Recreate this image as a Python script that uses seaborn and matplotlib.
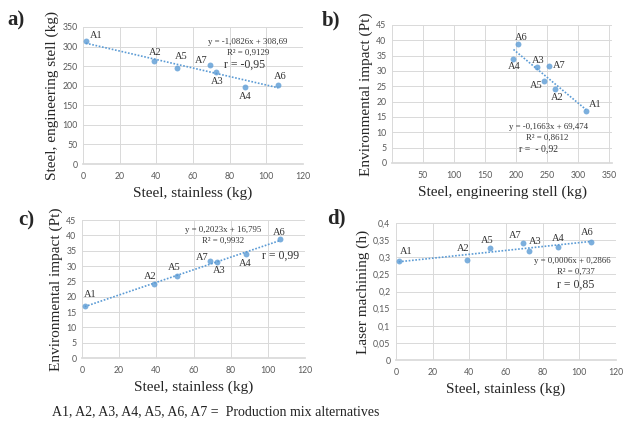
import matplotlib
matplotlib.use("Agg")
import matplotlib.pyplot as plt
import seaborn as sns
import pandas as pd
import numpy as np
from matplotlib.ticker import FixedLocator, FuncFormatter

# ---- data ----
alternatives = ["A1", "A2", "A3", "A4", "A5", "A6", "A7"]
steel_stainless = [1.5, 38.5, 72.5, 88.5, 51, 106.5, 69]
steel_engineering = [313, 263, 234, 196, 246, 203, 253]
env_impact = [17.0, 24.0, 31.3, 33.8, 26.6, 38.7, 31.5]
laser_machining = [0.288, 0.292, 0.319, 0.331, 0.327, 0.345, 0.342]

eq_a = ["y = -1,0826x + 308,69", "R\u00b2 = 0,9129", "r = -0,95"]
eq_b = ["y = -0,1663x + 69,474", "R\u00b2 = 0,8612", "r =  - 0,92"]
eq_c = ["y = 0,2023x + 16,795", "R\u00b2 = 0,9932", "r = 0,99"]
eq_d = ["y = 0,0006x + 0,2866", "R\u00b2 = 0,737", "r = 0,85"]
caption = "A1, A2, A3, A4, A5, A6, A7 =  Production mix alternatives"

df = pd.DataFrame({"alt": alternatives, "stainless": steel_stainless,
                   "engineering": steel_engineering, "impact": env_impact,
                   "laser": laser_machining})

sns.set_theme(style="white")
plt.rcParams["font.family"] = ["Liberation Serif", "DejaVu Serif"]

BLUE = "#5b9bd5"
GRID = "#d9d9d9"
TICK = "#595959"
TXT = "#333333"

fig = plt.figure(figsize=(6.25, 4.21), dpi=100)

def make_ax(l, t, r, b):
    W, H = 625, 421
    return fig.add_axes([l / W, (H - b) / H, (r - l) / W, (b - t) / H])

def style(ax, xlim, xticks, ylim, yticks, xlabels=None, yfmt=None):
    ax.set_xlim(*xlim)
    ax.set_ylim(*ylim)
    ax.xaxis.set_major_locator(FixedLocator(xticks))
    ax.yaxis.set_major_locator(FixedLocator(yticks))
    if xlabels is not None:
        ax.set_xticklabels(xlabels)
    if yfmt is not None:
        ax.yaxis.set_major_formatter(FuncFormatter(yfmt))
    ax.grid(True, color=GRID, linewidth=0.7)
    for s in ax.spines.values():
        s.set_visible(False)
    ax.spines["bottom"].set_visible(True)
    ax.spines["bottom"].set_color(GRID)
    ax.tick_params(axis="y", labelsize=6.3, colors=TICK, length=0, pad=4)
    ax.tick_params(axis="x", labelsize=6.3, colors=TICK, length=0, pad=6)
    for t in ax.get_xticklabels() + ax.get_yticklabels():
        t.set_fontfamily(["Lato", "DejaVu Sans"])
    ax.set_axisbelow(True)

def plot_panel(ax, xcol, ycol, offsets):
    sns.regplot(data=df, x=xcol, y=ycol, ax=ax, ci=None, truncate=True,
                scatter_kws=dict(s=18, color=BLUE, linewidths=0, zorder=3),
                line_kws=dict(color=BLUE, linestyle=(0, (1, 1)), linewidth=1.2, zorder=2))
    for alt, x, y in zip(df["alt"], df[xcol], df[ycol]):
        dx, dy = offsets[alt]
        ax.annotate(alt, (x, y), xytext=(dx, dy), textcoords="offset pixels",
                    ha="center", va="center", fontsize=7.5, color=TXT)

def eq(ax, lines, pos, sizes=(6.3, 6.3, 8.5)):
    for txt, (x, y), s in zip(lines, pos, sizes):
        ax.text(x, y, txt, ha="center", va="center", fontsize=s, color=TXT)

XL = 11
XPAD = 4
# panel a
ax_a = make_ax(83, 27, 303, 164)
style(ax_a, (0, 120), [0, 20, 40, 60, 80, 100, 120], (0, 350), list(range(0, 351, 50)))
plot_panel(ax_a, "stainless", "engineering",
           {"A1": (10, 6), "A2": (2, 9), "A5": (5, 11), "A7": (-8, 4),
            "A3": (1, -9), "A4": (0, -9), "A6": (2, 8)})
eq(ax_a, eq_a, [(90, 312), (90, 285), (88, 254)])
ax_a.set_xlabel("Steel, stainless (kg)", fontsize=XL, labelpad=XPAD)
ax_a.set_ylabel("Steel, engineering stell (kg)", fontsize=XL, labelpad=2)

# panel b
ax_b = make_ax(392, 25, 612, 163)
style(ax_b, (0, 355), [0, 50, 100, 150, 200, 250, 300, 350], (0, 45), list(range(0, 46, 5)),
      xlabels=["", "50", "100", "150", "200", "250", "300", "350"])
plot_panel(ax_b, "engineering", "impact",
           {"A6": (3, 7), "A4": (1, -7), "A3": (1, 7), "A7": (10, 1),
            "A5": (-8, -4), "A2": (2, -8), "A1": (9, 6)})
eq(ax_b, eq_b, [(252, 11.8), (250, 8.2), (236, 4.7)], sizes=(6.3, 6.3, 7))
ax_b.set_xlabel("Steel, engineering stell (kg)", fontsize=XL, labelpad=XPAD)
ax_b.set_ylabel("Environmental impact (Pt)", fontsize=XL, labelpad=2)

# panel c
ax_c = make_ax(82, 220, 305, 358)
style(ax_c, (0, 120), [0, 20, 40, 60, 80, 100, 120], (0, 45), list(range(0, 46, 5)))
plot_panel(ax_c, "stainless", "impact",
           {"A1": (5, 11), "A2": (-3, 8), "A5": (-3, 9), "A7": (-8, 4),
            "A3": (2, -8), "A4": (-1, -9), "A6": (-1, 7)})
eq(ax_c, eq_c, [(76, 41.7), (76, 38.1), (107, 33.3)])
ax_c.set_xlabel("Steel, stainless (kg)", fontsize=XL, labelpad=XPAD)
ax_c.set_ylabel("Environmental impact (Pt)", fontsize=XL, labelpad=2)

# panel d
ax_d = make_ax(396, 223, 616, 360)
style(ax_d, (0, 120), [0, 20, 40, 60, 80, 100, 120], (0, 0.4),
      [0, 0.05, 0.1, 0.15, 0.2, 0.25, 0.3, 0.35, 0.4],
      yfmt=lambda v, p: ("%g" % round(v, 2)).replace(".", ","))
for t in ax_d.get_yticklabels():
    t.set_fontfamily(["Lato", "DejaVu Sans"])
plot_panel(ax_d, "stainless", "laser",
           {"A1": (7, 10), "A2": (-3, 11), "A5": (-2, 8), "A7": (-7, 7),
            "A3": (6, 9), "A4": (0, 8), "A6": (-4, 9)})
eq(ax_d, eq_d, [(96, 0.288), (98, 0.258), (98, 0.221)])
ax_d.set_xlabel("Steel, stainless (kg)", fontsize=XL, labelpad=XPAD)
ax_d.set_ylabel("Laser machining (h)", fontsize=XL, labelpad=2)

# panel letters
for lbl, x, y in [("a)", 7, 20), ("b)", 322, 20), ("c)", 18, 220), ("d)", 327, 218)]:
    fig.text(x / 625, 1 - y / 421, lbl, fontsize=15, fontweight="bold", ha="left", va="center")

fig.text(52 / 625, 1 - 412 / 421, caption, fontsize=10, ha="left", va="center", color="#222222")

fig.savefig("out.png", dpi=100)
